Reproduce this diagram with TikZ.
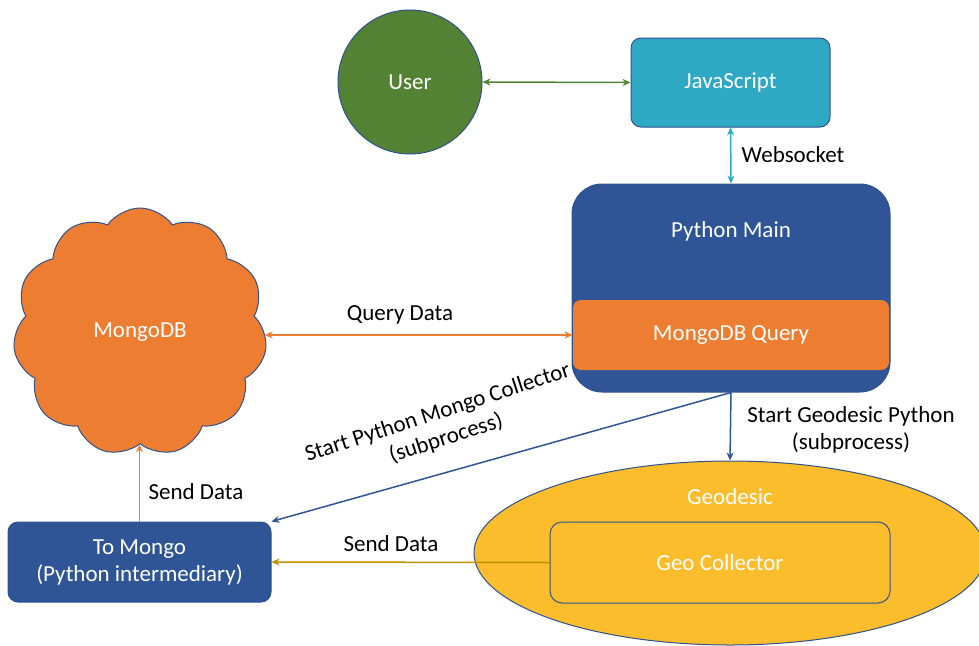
\documentclass[tikz,border=0pt]{standalone}
\usepackage{fontspec}
\setmainfont{Carlito}
\usetikzlibrary{positioning,shapes.geometric,shapes.symbols,arrows.meta}

\definecolor{pyblue}{HTML}{2F5597}
\definecolor{edgeblue}{HTML}{2F528F}
\definecolor{usergreen}{HTML}{548235}
\definecolor{jsteal}{HTML}{2EA8C3}
\definecolor{mongoorange}{HTML}{ED7D31}
\definecolor{geogold}{HTML}{FBBD2C}
\definecolor{senddark}{HTML}{BF9000}

\tikzset{
  box/.style={draw=edgeblue, line width=1pt, text=white, rounded corners=10pt, align=center, inner sep=0pt},
  lbl/.style={text=black, align=center},
  twoway/.style={line width=1.5pt, {Stealth[length=8pt,width=7pt]}-{Stealth[length=8pt,width=7pt]}},
  oneway/.style={line width=1.5pt, -{Stealth[length=8pt,width=7pt]}},
}

\begin{document}
\begin{tikzpicture}[x=1pt,y=-1pt,font=\fontsize{23}{27}\selectfont]
\useasboundingbox (0,0) rectangle (979,645);

% top row
\node[circle, draw=edgeblue, line width=1pt, fill=usergreen, text=white, minimum size=144pt, inner sep=0pt] (user) at (410,82) {User};
\node[box, fill=jsteal, minimum width=199pt, minimum height=89pt] (js) at (730.5,82.5) {JavaScript};

% python main with the query part
\node[box, fill=pyblue, rounded corners=30pt, minimum width=318pt, minimum height=208pt] (pymain) at (731,288) {};
\node[text=white] (pytitle) at (731,231) {Python Main};
\node[box, draw=none, fill=mongoorange, rounded corners=8pt, minimum width=316pt, minimum height=70pt] (query) at (731,335) {MongoDB Query};

% database
\node[cloud, cloud puffs=11, cloud puff arc=110, aspect=1.05, draw=edgeblue, line width=1pt, fill=mongoorange, text=white, minimum width=254pt, minimum height=248pt, inner sep=0pt] (mongodb) at (140,332) {MongoDB};

% geodesic
\node[ellipse, draw=edgeblue, line width=1pt, fill=geogold, minimum width=512pt, minimum height=184pt, inner sep=0pt] (geo) at (730,553) {};
\node[text=white] (geotitle) at (730,497) {Geodesic};
\node[box, fill=geogold, rounded corners=12pt, minimum width=340pt, minimum height=81pt] (geocoll) at (720,562.5) {Geo Collector};

% intermediary
\node[box, fill=pyblue, minimum width=263pt, minimum height=80pt] (tomongo) at (139.5,562) {To Mongo\\(Python intermediary)};

% connectors
\draw[twoway, usergreen] (user.east) -- (js.west);
\draw[twoway, jsteal] (js.south) -- (pymain.north);
\draw[twoway, mongoorange] (mongodb.east |- query.west) -- (query.west);
\draw[oneway, pyblue] (pymain.south) -- (tomongo.north east);
\draw[oneway, pyblue] (pymain.south) -- (geo.north);
\draw[oneway, senddark] (geocoll.west) -- (tomongo.east);
\draw[oneway, mongoorange] (tomongo.north) -- (tomongo.north |- mongodb.south);

% labels
\node[lbl] (wslbl) at (793,155) {Websocket};
\node[lbl] (qlbl) at (400,315) {Query Data};
\node[lbl, rotate=18] (startmongo) at (442,426) {Start Python Mongo Collector\\(subprocess)};
\node[lbl] (startgeo) at (851,430) {Start Geodesic Python\\(subprocess)};
\node[lbl] (sendtop) at (196,492) {Send Data};
\node[lbl] (sendbot) at (391,544) {Send Data};
\end{tikzpicture}
\end{document}
